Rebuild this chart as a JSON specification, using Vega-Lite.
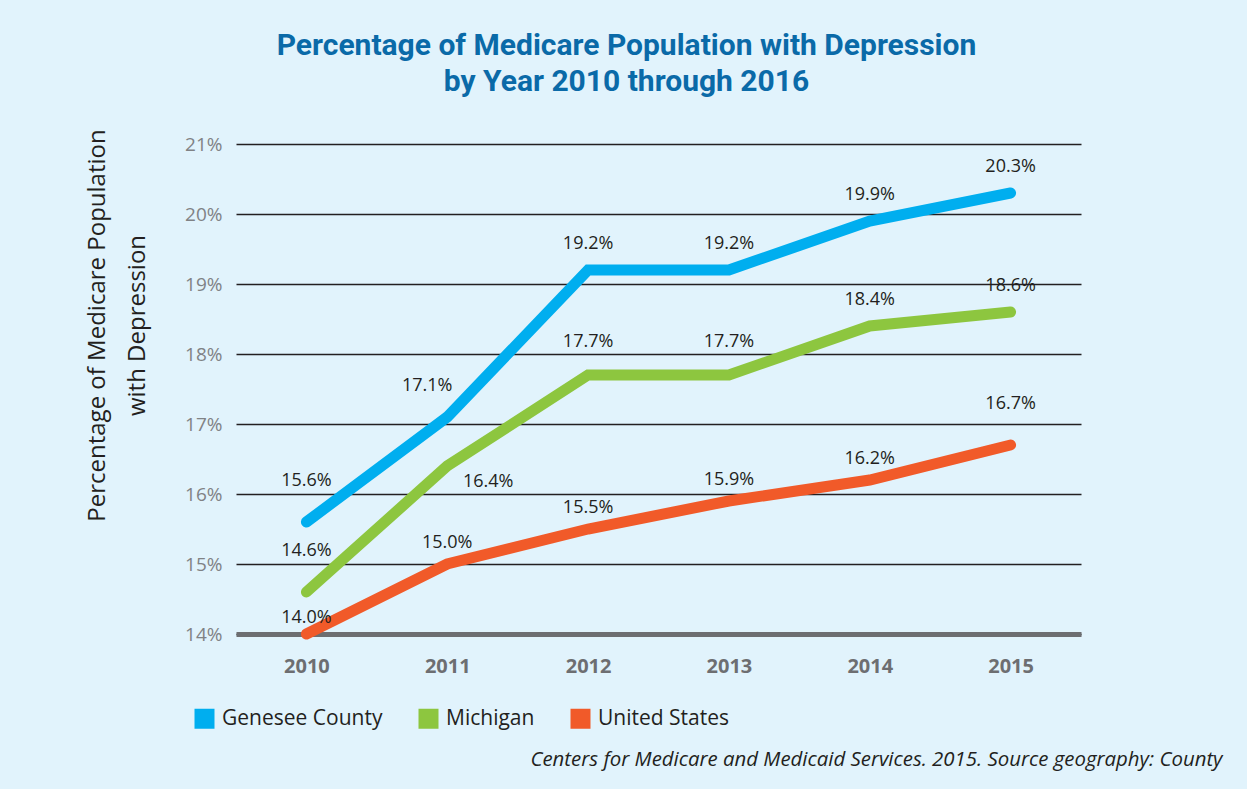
{
  "$schema": "https://vega.github.io/schema/vega-lite/v6.json",
  "width": 845,
  "height": 490,
  "autosize": {"type": "none"},
  "padding": {"left": 236, "top": 144, "right": 166, "bottom": 155},
  "background": "#e1f3fc",
  "config": {"view": {"stroke": null}, "font": "Open Sans"},
  "title": {
    "text": ["Percentage of Medicare Population with Depression", "by Year 2010 through 2016"],
    "font": "Roboto",
    "fontSize": 30,
    "fontWeight": "bold",
    "color": "#0a6aa8",
    "anchor": "middle",
    "frame": "group",
    "dx": -32,
    "lineHeight": 36,
    "offset": 8,
    "baseline": "alphabetic"
  },
  "data": {
    "values": [
      {"year": "2010", "series": "Genesee County", "value": 0.156},
      {"year": "2011", "series": "Genesee County", "value": 0.171},
      {"year": "2012", "series": "Genesee County", "value": 0.192},
      {"year": "2013", "series": "Genesee County", "value": 0.192},
      {"year": "2014", "series": "Genesee County", "value": 0.199},
      {"year": "2015", "series": "Genesee County", "value": 0.203},
      {"year": "2010", "series": "Michigan", "value": 0.146},
      {"year": "2011", "series": "Michigan", "value": 0.164},
      {"year": "2012", "series": "Michigan", "value": 0.177},
      {"year": "2013", "series": "Michigan", "value": 0.177},
      {"year": "2014", "series": "Michigan", "value": 0.184},
      {"year": "2015", "series": "Michigan", "value": 0.186},
      {"year": "2010", "series": "United States", "value": 0.140},
      {"year": "2011", "series": "United States", "value": 0.150},
      {"year": "2012", "series": "United States", "value": 0.155},
      {"year": "2013", "series": "United States", "value": 0.159},
      {"year": "2014", "series": "United States", "value": 0.162},
      {"year": "2015", "series": "United States", "value": 0.167}
    ]
  },
  "encoding": {
    "x": {
      "field": "year",
      "type": "ordinal",
      "scale": {"type": "point", "padding": 0.5},
      "axis": {
        "title": "Centers for Medicare and Medicaid Services. 2015. Source geography: County",
        "titleFontStyle": "italic",
        "titleFontWeight": "normal",
        "titleFontSize": 20.4,
        "titleColor": "#231f20",
        "titleX": 986,
        "titleY": 131,
        "titleAlign": "right",
        "titleBaseline": "alphabetic",
        "labelAngle": 0,
        "labelFontSize": 20,
        "labelFontWeight": "bold",
        "labelColor": "#6d6e71",
        "labelPadding": 22,
        "ticks": false,
        "domainColor": "#6d6e71",
        "domainWidth": 5,
        "grid": false
      }
    },
    "y": {
      "field": "value",
      "type": "quantitative",
      "scale": {"domain": [0.14, 0.21], "zero": false, "nice": false},
      "axis": {
        "values": [0.14, 0.15, 0.16, 0.17, 0.18, 0.19, 0.2, 0.21],
        "format": ".0%",
        "title": ["Percentage of Medicare Population", "with Depression"],
        "titleFontSize": 24,
        "titleFontWeight": "normal",
        "titleColor": "#231f20",
        "titleX": -132,
        "titleY": 181,
        "titleBaseline": "alphabetic",
        "titleLineHeight": 40,
        "titleAlign": "center",
        "labelFontSize": 19,
        "labelColor": "#808285",
        "labelPadding": 14,
        "ticks": false,
        "domain": false,
        "grid": true,
        "gridColor": "#231f20",
        "gridWidth": 1.5
      }
    },
    "color": {
      "field": "series",
      "type": "nominal",
      "scale": {
        "domain": ["Genesee County", "Michigan", "United States"],
        "range": ["#00aeef", "#8dc63f", "#f15a29"]
      },
      "legend": {
        "title": null,
        "orient": "none",
        "legendX": -42,
        "legendY": 564,
        "direction": "horizontal",
        "columns": 3,
        "columnPadding": 35,
        "symbolType": "square",
        "symbolSize": 400,
        "symbolStrokeWidth": 0,
        "labelFontSize": 21,
        "labelLimit": 400,
        "labelColor": "#231f20",
        "labelOffset": 7,
        "encode": {
          "symbols": {
            "update": {
              "fill": {"scale": "color", "field": "value"},
              "stroke": {"value": "transparent"}
            }
          }
        }
      }
    }
  },
  "layer": [
    {
      "mark": {"type": "line", "strokeWidth": 11, "strokeCap": "round", "strokeJoin": "miter"}
    },
    {
      "transform": [{"filter": "(datum.series == 'Genesee County' && datum.year != '2010' && datum.year != '2011') || (datum.series == 'Michigan' && (datum.year == '2014' || datum.year == '2015'))"}],
      "mark": {"type": "text", "dy": -26, "baseline": "middle", "fontSize": 18},
      "encoding": {"text": {"field": "value", "format": ".1%"}, "color": {"value": "#231f20"}}
    },
    {
      "transform": [{"filter": "datum.series == 'Michigan' && (datum.year == '2012' || datum.year == '2013')"}],
      "mark": {"type": "text", "dy": -33, "baseline": "middle", "fontSize": 18},
      "encoding": {"text": {"field": "value", "format": ".1%"}, "color": {"value": "#231f20"}}
    },
    {
      "transform": [{"filter": "datum.series == 'United States' && datum.year != '2010' && datum.year != '2015'"}],
      "mark": {"type": "text", "dy": -21, "baseline": "middle", "fontSize": 18},
      "encoding": {"text": {"field": "value", "format": ".1%"}, "color": {"value": "#231f20"}}
    },
    {
      "transform": [{"filter": "(datum.year == '2010' && datum.series != 'United States') || (datum.series == 'United States' && datum.year == '2015')"}],
      "mark": {"type": "text", "dy": -41, "baseline": "middle", "fontSize": 18},
      "encoding": {"text": {"field": "value", "format": ".1%"}, "color": {"value": "#231f20"}}
    },
    {
      "transform": [{"filter": "datum.series == 'United States' && datum.year == '2010'"}],
      "mark": {"type": "text", "dy": -16, "baseline": "middle", "fontSize": 18},
      "encoding": {"text": {"field": "value", "format": ".1%"}, "color": {"value": "#231f20"}}
    },
    {
      "transform": [{"filter": "datum.series == 'Michigan' && datum.year == '2011'"}],
      "mark": {"type": "text", "dx": 41, "dy": 16, "baseline": "middle", "fontSize": 18},
      "encoding": {"text": {"field": "value", "format": ".1%"}, "color": {"value": "#231f20"}}
    },
    {
      "transform": [{"filter": "datum.series == 'Genesee County' && datum.year == '2011'"}],
      "mark": {"type": "text", "dx": -20, "dy": -31, "baseline": "middle", "fontSize": 18},
      "encoding": {"text": {"field": "value", "format": ".1%"}, "color": {"value": "#231f20"}}
    }
  ]
}
